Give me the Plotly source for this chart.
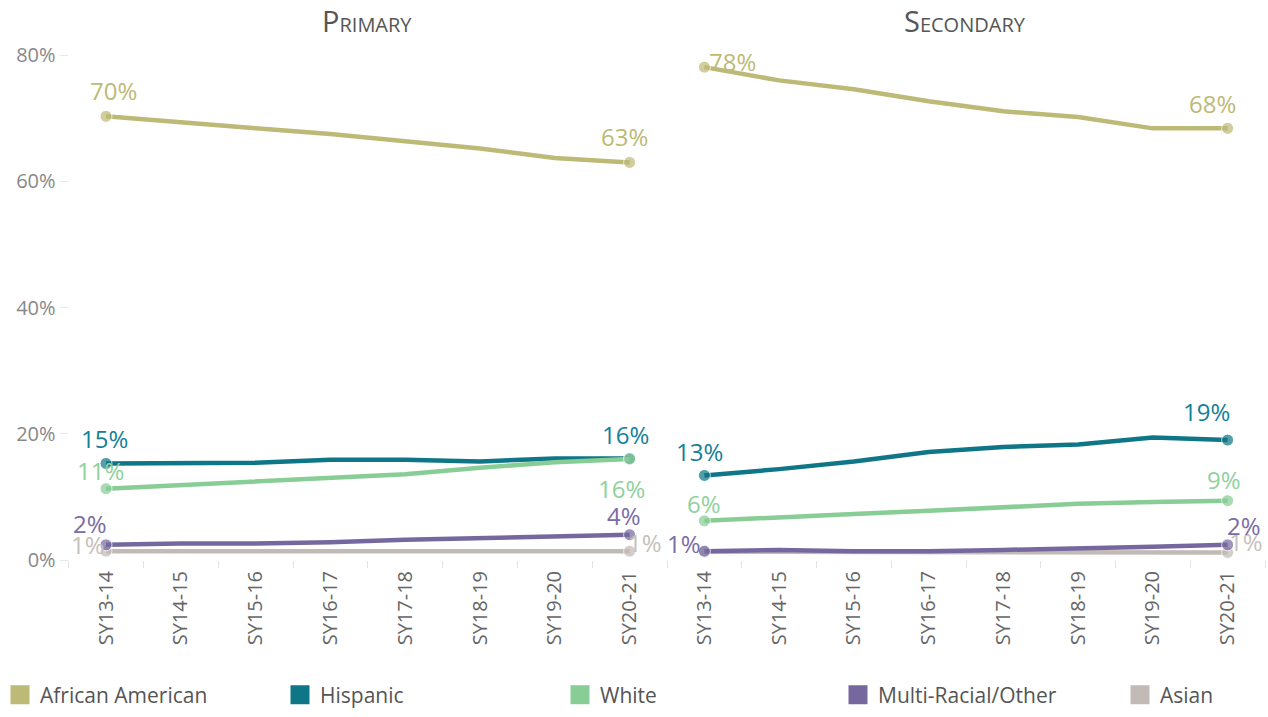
import plotly.graph_objects as go

years = ["SY13-14", "SY14-15", "SY15-16", "SY16-17", "SY17-18", "SY18-19", "SY19-20", "SY20-21"]
groups = ["African American", "Hispanic", "White", "Multi-Racial/Other", "Asian"]

primary_aa = [70.3, 69.3, 68.4, 67.5, 66.3, 65.2, 63.7, 63.0]
primary_hisp = [15.3, 15.3, 15.4, 15.9, 15.9, 15.6, 16.1, 16.1]
primary_white = [11.3, 11.9, 12.5, 13.0, 13.6, 14.6, 15.5, 16.0]
primary_multi = [2.4, 2.6, 2.6, 2.8, 3.2, 3.5, 3.7, 4.0]
primary_asian = [1.4, 1.4, 1.4, 1.4, 1.4, 1.4, 1.4, 1.4]

secondary_aa = [78.1, 76.0, 74.6, 72.7, 71.1, 70.2, 68.4, 68.4]
secondary_hisp = [13.4, 14.4, 15.6, 17.1, 17.9, 18.3, 19.4, 19.0]
secondary_white = [6.2, 6.8, 7.3, 7.8, 8.3, 8.9, 9.2, 9.4]
secondary_multi = [1.4, 1.6, 1.4, 1.4, 1.6, 1.8, 2.1, 2.4]
secondary_asian = [1.3, 1.3, 1.3, 1.3, 1.3, 1.3, 1.3, 1.2]

y_ticks = [0, 20, 40, 60, 80]
panel_titles = ["Primary", "Secondary"]

colors = {
    "African American": "#BDB976",
    "Hispanic": "#0E7686",
    "White": "#88CD95",
    "Multi-Racial/Other": "#76689F",
    "Asian": "#C2BAB6",
}
label_colors = {
    "African American": "#BDB976",
    "Hispanic": "#13809A",
    "White": "#8FD19B",
    "Multi-Racial/Other": "#7A6CA6",
    "Asian": "#C8C0BC",
}

primary = {"African American": primary_aa, "Hispanic": primary_hisp, "White": primary_white,
           "Multi-Racial/Other": primary_multi, "Asian": primary_asian}
secondary = {"African American": secondary_aa, "Hispanic": secondary_hisp, "White": secondary_white,
             "Multi-Racial/Other": secondary_multi, "Asian": secondary_asian}

# label offsets (px) for first / last point: (xshift, yshift); None = hidden
offsets_primary = {
    "African American": [(7, 26), (-5, 26)],
    "Hispanic": [(-2, 25), (-4, 24)],
    "White": [(-6, 18), (-8, -29)],
    "Multi-Racial/Other": [(-16, 21), (-6, 19)],
    "Asian": [(-18, 7), (15, 9)],
}
offsets_secondary = {
    "African American": [(28, 6), (-15, 25)],
    "Hispanic": [(-5, 24), (-21, 29)],
    "White": [(0, 17), (-4, 21)],
    "Multi-Racial/Other": [(-20, 8), (16, 19)],
    "Asian": [None, (18, 11)],
}

# legend box left edges (px)
legend_left = [0, 280, 560, 838, 1120]

FONT = "Open Sans"
W, H = 1268, 717
ML, MR, MT, MB = 0, 0, 0, 40
PW, PH = W - ML - MR, H - MT - MB


def px(x):
    return (x - ML) / PW


def py(y):
    return (H - MB - y) / PH


fig = go.Figure()

draw_order = ["African American", "Hispanic", "White", "Asian", "Multi-Racial/Other"]
annotations = []
for data, xa, ya, offs in [(primary, "x", "y", offsets_primary), (secondary, "x2", "y2", offsets_secondary)]:
    for g in draw_order:
        vals = data[g]
        n = len(vals)
        sizes = [12 if i in (0, n - 1) else 0 for i in range(n)]
        fig.add_trace(go.Scatter(
            x=years, y=vals, xaxis=xa, yaxis=ya, mode="lines+markers",
            line=dict(color=colors[g], width=4.5),
            marker=dict(size=sizes, color=colors[g]),
            showlegend=False, cliponaxis=False, hoverinfo="skip",
        ))
        for idx, off in zip([0, n - 1], offs[g]):
            if off is None:
                continue
            annotations.append(dict(
                x=years[idx], y=vals[idx], xref=xa, yref=ya,
                text=f"{round(vals[idx])}%", showarrow=False,
                xshift=off[0], yshift=off[1],
                font=dict(family=FONT, size=24, color=label_colors[g]),
            ))

legend_layouts = {}
for k, g in enumerate(groups):
    lname = "legend" if k == 0 else f"legend{k + 1}"
    fig.add_trace(go.Scatter(
        x=[None], y=[None], mode="markers", name=g, legend=lname,
        marker=dict(symbol="square", size=17, color=colors[g], line=dict(color=colors[g], width=3)),
        showlegend=True,
    ))
    legend_layouts[lname] = dict(
        orientation="h", x=px(legend_left[k]), y=py(695), yanchor="middle", xanchor="left",
        itemsizing="trace", font=dict(family=FONT, size=21, color="#555555"),
        bgcolor="rgba(0,0,0,0)",
    )

x1 = [px(68.6), px(667)]
x2 = [px(667), px(1265)]
ydom = [py(560), py(40)]

axis_x = dict(
    type="category", showgrid=False, zeroline=False, showline=False, automargin=False,
    ticks="outside", tickson="boundaries", ticklen=7, tickcolor="#E2E2E2",
    ticklabelstandoff=6,
    tickangle=-90, tickfont=dict(family=FONT, size=20, color="#666666"),
    range=[-0.5, 7.5],
)
axis_y = dict(
    range=[0, 82.4], showgrid=False, zeroline=False, showline=False, automargin=False,
    tickvals=y_ticks, ticktext=[f"{v}%" for v in y_ticks],
    tickfont=dict(family=FONT, size=20, color="#888888"),
)

for i, t in enumerate(panel_titles):
    annotations.append(dict(
        text=t, x=px([367, 965][i]), y=py(21), xref="paper", yref="paper",
        xanchor="center", yanchor="middle",
        showarrow=False, font=dict(family=FONT, size=29, color="#555555", variant="small-caps"),
    ))

fig.update_layout(
    width=W, height=H,
    margin=dict(l=ML, r=MR, t=MT, b=MB),
    paper_bgcolor="white", plot_bgcolor="white",
    xaxis=dict(domain=x1, anchor="y", **axis_x),
    xaxis2=dict(domain=x2, anchor="y2", **axis_x),
    yaxis=dict(domain=ydom, anchor="x", ticks="outside", ticklen=8, tickcolor="#E8E8E8", **axis_y),
    yaxis2=dict(domain=ydom, anchor="x2", showticklabels=False, ticks="", **axis_y),
    annotations=annotations,
    showlegend=True,
    **legend_layouts,
)

fig.write_html("out.html", config={"displayModeBar": False},
               post_script="document.body.style.margin='0';")
